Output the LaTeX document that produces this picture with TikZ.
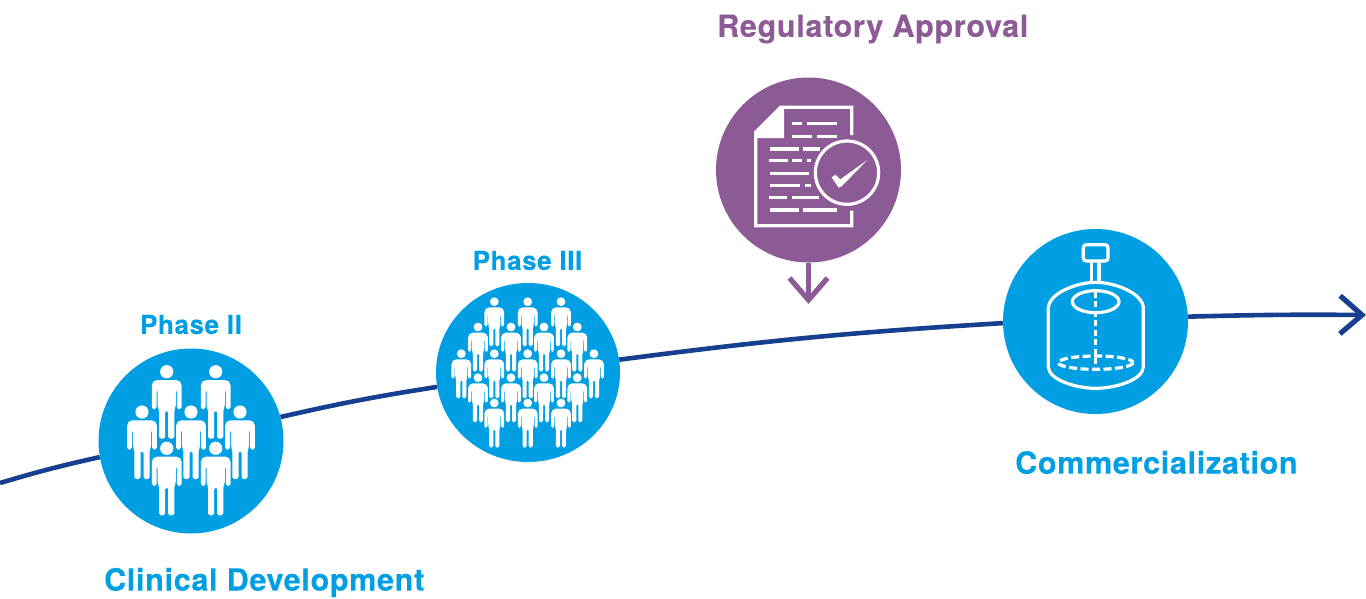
\documentclass[tikz,border=0pt]{standalone}
\usepackage{fontspec}
\usepackage{xcolor}
\usetikzlibrary{arrows.meta,shapes.geometric}
\setmainfont{TeX Gyre Heros}[LetterSpace=2.3, FakeBold=0.25]
\definecolor{stageblue}{HTML}{009FE3}
\definecolor{trendnavy}{HTML}{173F8F}
\definecolor{approvalpurple}{HTML}{8C5A94}
\tikzset{
    stagecircle/.style={ellipse, fill=stageblue, draw=none, minimum width=185pt, minimum height=185pt, inner sep=0pt},
    stagelabel/.style={text=stageblue, font=\bfseries\fontsize{30.5}{30}\selectfont, inner sep=0pt},
    phaselabel/.style={text=stageblue, font=\bfseries\fontsize{26}{24}\selectfont, inner sep=0pt},
    trendline/.style={draw=trendnavy, line width=4.6pt},
    iconline/.style={draw=white, line width=3.2pt},
    personhalo/.style={fill=white, preaction={draw=stageblue, line width=2pt}},
    person/.pic={
        \path[personhalo] (0,0) circle (6.6);
        \path[personhalo]
            [rounded corners=5pt] (-14.8,22) -- (-14.8,8.4) -- (14.8,8.4) -- (14.8,22)
            [rounded corners=1.8pt] -- (14.8,37.5) -- (10.2,37.5) -- (10.2,18) -- (9.1,18)
            -- (9.1,35) -- (7.6,38) -- (7.6,67) -- (1.5,67) -- (1.5,39) -- (-1.5,39) -- (-1.5,67)
            -- (-7.6,67) -- (-7.6,38) -- (-9.1,35) -- (-9.1,18) -- (-10.2,18) -- (-10.2,37.5)
            -- (-14.8,37.5) -- (-14.8,22);
    }
}
\begin{document}
\begin{tikzpicture}[x=1pt, y=-1pt]
    \useasboundingbox (0,0) rectangle (1366,598);

    % Stages
    \node[stagecircle] at (191,441) (phasetwo) {};
    \node[stagecircle, minimum width=184pt, minimum height=179pt] at (528,372.5) (phasethree) {};
    \node[stagecircle, fill=approvalpurple] at (808.5,170) (approval) {};
    \node[stagecircle] at (1095.5,321.5) (market) {};

    % Trend line
    \coordinate (trendstart) at (0,483);
    \coordinate (trendend) at (1366,315);
    \draw[trendline] (trendstart) to[bend left=2] (phasetwo.190);
    \draw[trendline] (phasetwo.15) to[bend left=2] (phasethree.189);
    \draw[trendline] (phasethree.8) to[bend left=2] (market.181);
    \draw[trendline, -{Straight Barb[length=22pt, width=38pt, line width=5.2pt]}] (market.3) to[bend left=1] (trendend);

    % Approval arrow
    \coordinate (approvaltip) at (808.5,304);
    \draw[draw=approvalpurple, line width=5pt, -{Straight Barb[length=22pt, width=38pt, line width=5.2pt]}] (approval.south) -- (approvaltip);

    % Labels
    \node[stagelabel, anchor=west] at (104,582.5) (clinicallabel) {Clinical Development};
    \node[phaselabel] at (191,324.5) (phasetwolabel) {Phase II};
    \node[phaselabel] at (527.5,260.5) (phasethreelabel) {Phase III};
    \node[stagelabel, text=approvalpurple, anchor=west] at (717,29) (approvallabel) {Regulatory Approval};
    \node[stagelabel, anchor=west] at (1015,462.5) (marketlabel) {Commercialization};

    % Phase II people
    \foreach \x/\y in {166.7/371.7, 215.7/371.7, 142/412, 191/412, 240/412, 166.7/448.3, 215.7/448.3} {
        \pic at (\x,\y) {person};
    }

    % Phase III people
    \foreach \y/\xlist in {301.7/{494.3,527.7,561}, 327/{478,511,544,577.3}, 353.7/{461.3,494.3,527.7,561,594},
                           377.7/{478,511,544,577.3}, 403/{494.3,527.7,561}} {
        \foreach \x in \xlist {
            \pic[scale=0.667] at (\x,\y) {person};
        }
    }

    % Document icon
    \begin{scope}[shift={(710,70)}, scale=1/3]
        \draw[iconline, line join=miter] (425,195) -- (425,112) -- (212,112) -- (137,187) -- (137,467) -- (425,467) -- (425,422);
        \fill[white] (137,187) -- (217,112) -- (222,112) -- (222,204) -- (137,204) -- cycle;
        \foreach \y/\a/\b in {161/247/275, 161/292/380, 199/247/305, 199/322/380, 237/180/268, 237/278/330,
                              272/178/233, 272/247/275, 272/292/303, 310/180/298, 347/180/270, 347/285/303,
                              383/178/230, 383/245/328, 420/180/268, 420/278/380} {
            \draw[iconline] (\a,\y) -- (\b,\y);
        }
        \draw[iconline, fill=approvalpurple] (411,308) circle (95);
        \fill[white] (365,322) -- (376,314) -- (391,328) -- (472,270) -- (396,348) -- (386,353) -- cycle;
    \end{scope}

    % Tank icon
    \begin{scope}[shift={(1000,225)}, scale=1/3]
        \draw[iconline, rounded corners=3pt] (250,59) rectangle (324,108);
        \draw[iconline] (275,108) -- (275,170);
        \draw[iconline] (297,108) -- (297,170);
        \draw[iconline] (145,425) -- (145,250) .. controls (145,205) and (230,172) .. (287,172)
            .. controls (345,172) and (430,205) .. (430,250) -- (430,425)
            .. controls (430,465) and (345,490) .. (287,490) .. controls (230,490) and (145,465) .. (145,425) -- cycle;
        \draw[iconline] (287,230) ellipse (70 and 33);
        \draw[iconline, dash pattern=on 6pt off 3.5pt] (287,200) -- (287,425);
        \draw[iconline, dash pattern=on 8pt off 3.5pt] (287,413) ellipse (112 and 20);
    \end{scope}
\end{tikzpicture}
\end{document}
